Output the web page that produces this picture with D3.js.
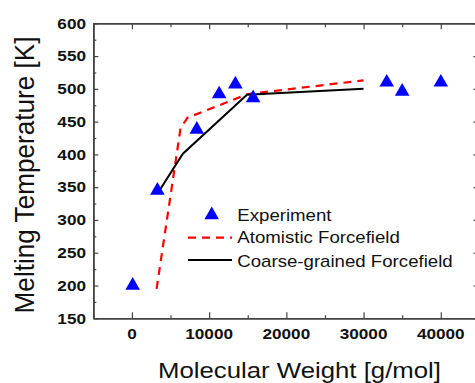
<!DOCTYPE html>
<html><head><meta charset="utf-8">
<script src="https://cdn.jsdelivr.net/npm/d3@7"></script>
<style>body{margin:0;background:#fff}svg{display:block}</style>
</head><body>
<script>
const xTickValues = [0, 10000, 20000, 30000, 40000];
const yTickValues = [150, 200, 250, 300, 350, 400, 450, 500, 550, 600];
const expMW = [100, 3300, 8400, 11300, 13400, 15700, 33000, 35000, 40000];
const expTm = [200, 345, 438, 492, 507, 486, 510, 496, 510];
const atomMW = [3200, 6300, 7200, 15000, 30000];
const atomTm = [195, 440, 456, 492, 513];
const cgMW = [3300, 6600, 14900, 30000];
const cgTm = [340, 401, 491, 500];
const legendLabels = ["Experiment", "Atomistic Forcefield", "Coarse-grained Forcefield"];

const W = 475, H = 383;
const svg = d3.select("body").append("svg").attr("width", W).attr("height", H);
const x = d3.scaleLinear().domain([-5000, 45000]).range([93.3, 479.4]);
const y = d3.scaleLinear().domain([150, 600]).range([318.3, 23.3]);
const axisColor = "#444";
const font = "'Liberation Sans', Arial, sans-serif";

function styleAxis(g) {
  g.selectAll(".domain").attr("stroke", axisColor).attr("stroke-width", 1.6);
  g.selectAll(".tick line").attr("stroke", axisColor).attr("stroke-width", 1.2);
  g.selectAll("text").remove();
}
const xMinor = d3.range(-5000, 45001, 5000).filter(v => v % 10000 !== 0);
const yMinor = d3.range(175, 600, 50);

// bottom axis
svg.append("g").attr("transform", `translate(0,${y(150)})`)
  .call(d3.axisBottom(x).tickValues(xTickValues).tickSizeInner(-6).tickSizeOuter(0)).call(styleAxis);
svg.append("g").attr("transform", `translate(0,${y(150)})`)
  .call(d3.axisBottom(x).tickValues(xMinor).tickSizeInner(-3).tickSizeOuter(0)).call(styleAxis);
// top axis
svg.append("g").attr("transform", `translate(0,${y(600)})`)
  .call(d3.axisTop(x).tickValues(xTickValues).tickSizeInner(-6).tickSizeOuter(0)).call(styleAxis);
svg.append("g").attr("transform", `translate(0,${y(600)})`)
  .call(d3.axisTop(x).tickValues(xMinor).tickSizeInner(-4).tickSizeOuter(0)).call(styleAxis);
// left axis
svg.append("g").attr("transform", `translate(${x(-5000)},0)`)
  .call(d3.axisLeft(y).tickValues(yTickValues).tickSizeInner(-5).tickSizeOuter(0)).call(styleAxis);
svg.append("g").attr("transform", `translate(${x(-5000)},0)`)
  .call(d3.axisLeft(y).tickValues(yMinor).tickSizeInner(-3).tickSizeOuter(0)).call(styleAxis);
// right axis
svg.append("g").attr("transform", `translate(${x(45000)},0)`)
  .call(d3.axisRight(y).tickValues(yTickValues).tickSizeInner(-6).tickSizeOuter(0)).call(styleAxis);

// tick labels
function sText(parent, tx, ty, str, size, sx, anchor, weight) {
  return parent.append("text")
    .attr("transform", `translate(${tx},${ty}) scale(${sx},1)`)
    .attr("text-anchor", anchor).attr("font-family", font)
    .attr("font-size", size).attr("font-weight", weight || "normal")
    .attr("fill", "#111").text(str);
}
xTickValues.forEach(v => sText(svg, x(v), 338.6, d3.format("d")(v), 14.8, 1.16, "middle", "bold"));
yTickValues.forEach(v => sText(svg, 86, y(v) + 5.3, d3.format("d")(v), 14.8, 1.16, "end", "bold"));

// axis titles
sText(svg, 299.5, 377.5, "Molecular Weight [g/mol]", 22.5, 1.145, "middle");
svg.append("text")
  .attr("transform", `translate(33.5,175) rotate(-90) scale(0.975,1)`)
  .attr("text-anchor", "middle").attr("font-family", font).attr("font-size", 26.8)
  .attr("fill", "#111").text("Melting Temperature [K]");

// lines
const line = d3.line().x(d => x(d[0])).y(d => y(d[1]));
svg.append("path").datum(d3.zip(atomMW, atomTm)).attr("d", line)
  .attr("fill", "none").attr("stroke", "#ff0000").attr("stroke-width", 2.2)
  .attr("stroke-dasharray", "8,6");
svg.append("path").datum(d3.zip(cgMW, cgTm)).attr("d", line)
  .attr("fill", "none").attr("stroke", "#000").attr("stroke-width", 2);

// experiment triangles
const tri = d3.symbol().type(d3.symbolTriangle).size(92);
svg.selectAll("path.exp").data(d3.zip(expMW, expTm)).enter().append("path")
  .attr("class", "exp").attr("d", tri)
  .attr("transform", d => `translate(${x(d[0])},${y(d[1])})`)
  .attr("fill", "#0000ff");

// legend
const lg = svg.append("g");
lg.append("path").attr("d", tri).attr("transform", "translate(211.7,215)").attr("fill", "#0000ff");
lg.append("line").attr("x1", 188).attr("x2", 232).attr("y1", 237.7).attr("y2", 237.7)
  .attr("stroke", "#ff0000").attr("stroke-width", 2.2).attr("stroke-dasharray", "8,6");
lg.append("line").attr("x1", 188).attr("x2", 232).attr("y1", 260).attr("y2", 260)
  .attr("stroke", "#000").attr("stroke-width", 2);
[220.7, 243.3, 266.7].forEach((b, i) => sText(lg, 237.3, b, legendLabels[i], 15.8, 1.18, "start"));
</script>
</body></html>
